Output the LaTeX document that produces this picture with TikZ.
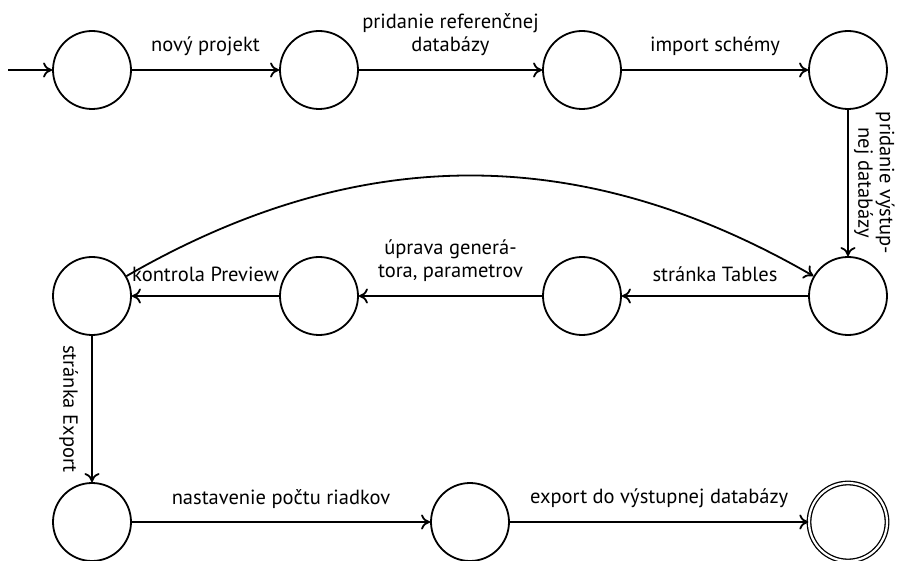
\documentclass[tikz,border=0pt]{standalone}
\usepackage{fontspec}
\setmainfont{PT Sans}
\usetikzlibrary{arrows.meta}

\begin{document}
\begin{tikzpicture}[x=1pt,y=1pt,
  statenode/.style={circle, draw, line width=1.8pt, minimum size=78pt, inner sep=0pt},
  finalnode/.style={statenode, double, line width=1.3pt, double distance=2.2pt},
  flow/.style={-{To[length=9pt,width=15pt]}, line width=1.8pt},
  lbl/.style={font=\fontsize{20.5}{23}\selectfont, inner sep=13pt, align=center}
]
\useasboundingbox (0,0) rectangle (902,-561);

% states, row by row
\node[statenode] (s0) at (92,-70) {};
\node[statenode] (s1) at (319,-70) {};
\node[statenode] (s2) at (582,-70) {};
\node[statenode] (s3) at (848,-70) {};
\node[statenode] (s4) at (848,-296) {};
\node[statenode] (s5) at (582,-296) {};
\node[statenode] (s6) at (319,-296) {};
\node[statenode] (s7) at (92,-296) {};
\node[statenode] (s8) at (92,-522) {};
\node[statenode] (s9) at (470,-522) {};
\node[finalnode] (s10) at (848,-522) {};
\coordinate (start) at (8,-70);

% transitions
\draw[flow] (start) -- (s0);
\draw[flow] (s0) -- node[lbl, above] {nový projekt} (s1);
\draw[flow] (s1) -- node[lbl, above] {pridanie referenčnej\\databázy} (s2);
\draw[flow] (s2) -- node[lbl, above] {import schémy} (s3);
\draw[flow] (s3) -- node[lbl, rotate=-90, above, inner sep=5pt,
  font=\fontsize{20.5}{21.5}\selectfont] {pridanie výstup-\\nej databázy} (s4);
\draw[flow] (s4) -- node[lbl, above] {stránka Tables} (s5);
\draw[flow] (s5) -- node[lbl, above] {úprava generá-\\tora, parametrov} (s6);
\draw[flow] (s6) -- node[lbl, above] {kontrola Preview} (s7);
\draw[flow] (s7) to[bend left=30] (s4);
\draw[flow] (s7) -- node[lbl, rotate=-90, below] {stránka Export} (s8);
\draw[flow] (s8) -- node[lbl, above] {nastavenie počtu riadkov} (s9);
\draw[flow] (s9) -- node[lbl, above] {export do výstupnej databázy} (s10);
\end{tikzpicture}
\end{document}
